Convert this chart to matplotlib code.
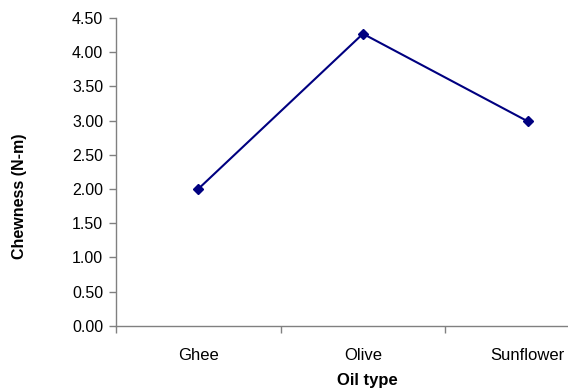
from matplotlib import pyplot as plt
from matplotlib.ticker import FormatStrFormatter

plt.rcParams['font.family'] = ['Liberation Sans', 'DejaVu Sans']

oils = ['Ghee', 'Olive', 'Sunflower']
chewness = [2.00, 4.27, 2.99]

fig = plt.figure(figsize=(5.68, 3.92), dpi=100)
# plot area runs past the right edge, as in the cropped original
ax = fig.add_axes([0.204, 0.169, 0.870, 0.785])

x = [1, 2, 3]
ax.plot(x, chewness, color='#000080', lw=1.5, marker='D', ms=5, mfc='#000080', mec='#000080')

ax.set_xlim(0.5, 3.5)
ax.set_ylim(0, 4.5)
ax.set_yticks([i * 0.5 for i in range(10)])
ax.yaxis.set_major_formatter(FormatStrFormatter('%.2f'))

ax.set_xticks([0.5, 1.5, 2.5, 3.5])
ax.set_xticklabels([])
ax.set_xticks(x, minor=True)
ax.set_xticklabels(oils, minor=True)
ax.tick_params(axis='x', which='minor', length=0, pad=16, labelsize=12)
ax.tick_params(axis='x', which='major', length=5, width=1, color='#808080')
ax.tick_params(axis='y', length=5, width=1, color='#808080', labelsize=11.5, pad=4)

for s in ['top', 'right']:
    ax.spines[s].set_visible(False)
for s in ['left', 'bottom']:
    ax.spines[s].set_color('#808080')
    ax.spines[s].set_linewidth(1)

fig.text(0.034, 0.5, 'Chewness (N-m)', rotation=90, ha='center', va='center', fontsize=11.5, fontweight='bold')
fig.text(0.646, 0.030, 'Oil type', ha='center', va='center', fontsize=12, fontweight='bold')

fig.savefig('out.png', dpi=100)
